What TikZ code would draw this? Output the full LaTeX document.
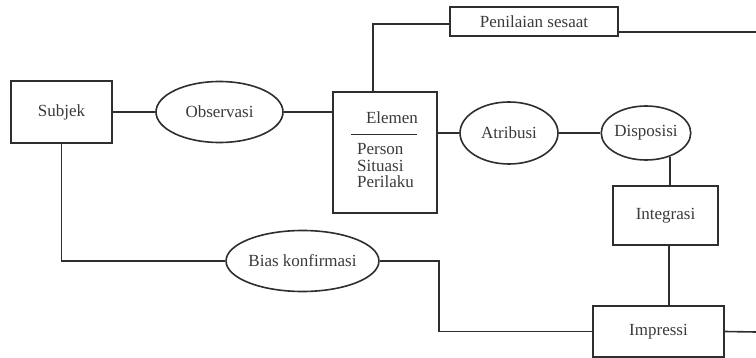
\documentclass[tikz,border=0pt]{standalone}
\usepackage{fontspec}
\setmainfont{Liberation Serif}
\usepackage{xcolor}
\usepackage{tikz}
\usetikzlibrary{shapes.geometric}
\definecolor{ink}{HTML}{2E2E2E}
\definecolor{txt}{HTML}{3A3A3A}
\tikzset{
  box/.style={draw=ink, line width=1.6pt, rectangle, inner sep=0pt, text=txt, font=\fontsize{17}{20}\selectfont},
  oval/.style={draw=ink, line width=1.6pt, ellipse, inner sep=0pt, text=txt, font=\fontsize{17}{20}\selectfont},
  link/.style={draw=ink, line width=1.6pt},
  labm/.style={text=txt, font=\fontsize{17}{20}\selectfont}
}

\begin{document}
\begin{tikzpicture}[x=1pt,y=-1pt]
  \useasboundingbox (0,0) rectangle (756,358);
  \coordinate (spine) at (669,0);
  \coordinate (jog) at (439,0);
  \coordinate (outA) at (756,32);
  \coordinate (outB) at (756,332);

  \node[box, minimum width=101pt, minimum height=62pt] (subjek) at (61.5,112) {Subjek};
  \node[oval, minimum width=127pt, minimum height=61pt] (obs) at (219.5,112) {Observasi};
  \node[box, minimum width=104pt, minimum height=121pt] (elemen) at (385,152.5) {};
  \node[labm] (eltitle) at (392,117.5) {Elemen};
  \node[labm, anchor=base west, inner sep=0pt] (person) at (357,155) {Person};
  \node[labm, anchor=base west, inner sep=0pt] (situasi) at (357,171.5) {Situasi};
  \node[labm, anchor=base west, inner sep=0pt] (perilaku) at (357,188) {Perilaku};
  \node[box, minimum width=168pt, minimum height=29pt] (penilaian) at (534,21.5) {Penilaian sesaat};
  \node[oval, minimum width=98pt, minimum height=62pt] (atribusi) at (509,133) {Atribusi};
  \node[oval, minimum width=88pt, minimum height=54pt] (disposisi) at (646,133) {Disposisi};
  \node[box, minimum width=105pt, minimum height=59pt] (integrasi) at (665.5,215.5) {Integrasi};
  \node[box, minimum width=131pt, minimum height=51pt] (impressi) at (658.5,331.5) {Impressi};
  \node[oval, minimum width=141pt, minimum height=61pt] (bias) at (302.5,261) {Bias konfirmasi};

  \draw[link] (351,134.5) -- (417,134.5);

  \draw[link] (subjek.east) -- (obs.west);
  \draw[link] (obs.east) -- (obs.east -| elemen.west);
  \draw[link] ([xshift=-12pt]elemen.north) |- ([yshift=-2.5pt]penilaian.west);
  \draw[link] ([yshift=-10.5pt]penilaian.east) -- (outA);
  \draw[link] (atribusi.west -| elemen.east) -- (atribusi.west);
  \draw[link] (atribusi.east) -- (disposisi.west);
  \draw[link] (disposisi.-45) -- (disposisi.-45 |- integrasi.north);
  \draw[link] (spine |- integrasi.south) -- (spine |- impressi.north);
  \draw[link] (impressi.east) -- (outB);
  \draw[link] (subjek.south) |- (bias.west);
  \draw[link] (bias.east) -- (bias.east -| jog) |- (impressi.west);
\end{tikzpicture}
\end{document}
